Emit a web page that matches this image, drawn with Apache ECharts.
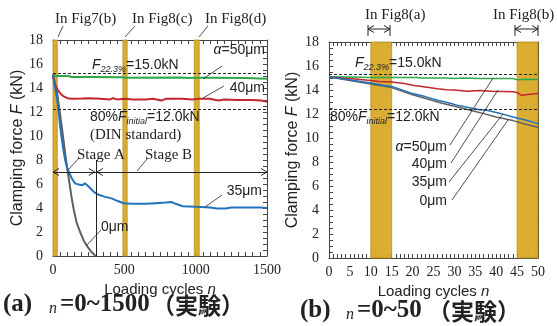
<!DOCTYPE html>
<html><head><meta charset="utf-8">
<script src="https://cdn.jsdelivr.net/npm/echarts@6/dist/echarts.min.js"></script>
<style>html,body{margin:0;padding:0;background:#fff}#c{width:557px;height:326px}</style>
</head><body><div id="c"></div>
<script>
// ---------- DATA ----------
// (a) n = 0~1500 : [cycle, clamping force kN]
const green50A = [[0,15.2],[8,15.05],[20,15.0],[110,15.0],[125,14.92],[250,14.92],[255,14.98],[265,14.92],[480,14.9],[490,14.85],[510,14.85],[520,14.9],[900,14.88],[950,14.83],[1000,14.85],[1100,14.85],[1350,14.83],[1500,14.78]];
const red40A = [[0,15.1],[8,14.5],[20,14.1],[35,13.8],[55,13.5],[75,13.3],[100,13.15],[130,13.1],[200,13.12],[260,13.15],[330,13.1],[400,13.05],[420,13.15],[450,13.05],[500,13.1],[560,13.05],[650,13.05],[700,13.1],[760,12.95],[790,13.1],[900,13.1],[980,13.05],[1020,13.1],[1100,13.1],[1140,13.0],[1160,12.95],[1200,13.05],[1300,13.0],[1400,13.0],[1460,12.95],[1500,12.85]];
const blue35A = [[0,15.1],[10,14.3],[20,13.7],[30,13.0],[40,12.0],[50,10.8],[60,9.9],[72,8.9],[85,8.0],[100,7.3],[115,6.9],[135,6.4],[155,6.05],[180,5.95],[205,5.9],[225,6.05],[240,5.9],[265,5.6],[290,5.3],[320,5.1],[360,4.95],[410,4.8],[450,4.6],[495,4.4],[550,4.35],[650,4.35],[720,4.4],[790,4.45],[830,4.5],[860,4.35],[910,4.15],[1000,4.1],[1100,4.05],[1150,3.95],[1210,3.95],[1250,4.05],[1350,4.05],[1450,4.05],[1500,4.0]];
const gray0A = [[0,15.1],[15,14.3],[30,13.5],[45,12.2],[60,10.9],[75,9.5],[90,8.1],[100,7.3],[115,6.1],[130,4.9],[145,3.9],[165,2.8],[190,2.0],[215,1.3],[240,0.8],[265,0.4],[290,0.1],[305,0]];
// (b) n = 0~50
const green50B = [[0,15.1],[5,15.08],[10,15.05],[15,15.05],[21,15.05],[22,15.0],[28,15.0],[30,14.95],[32,15.0],[36,14.95],[40,14.95],[44,14.95],[45,14.85],[47,14.9],[50,14.88]];
const red40B = [[0,15.08],[5,14.95],[10,14.8],[12,14.7],[15,14.67],[18,14.55],[20,14.4],[23,14.25],[26,14.1],[28,14.03],[30,14.0],[33,13.9],[36,13.95],[39,13.9],[42,13.88],[44,13.85],[45,13.8],[46,13.55],[47,13.6],[50,13.7]];
const blue35B = [[0,15.08],[3,14.95],[6,14.8],[10,14.58],[13,14.4],[15,14.3],[18,13.95],[20,13.7],[23,13.45],[26,13.15],[29,12.9],[31,12.7],[34,12.5],[36,12.36],[38,12.3],[41,12.05],[44,11.75],[47,11.5],[50,11.2]];
const gray0B = [[0,15.08],[5,14.8],[10,14.5],[15,14.2],[20,13.6],[25,13.1],[27,12.9],[30,12.65],[35,12.2],[37,12.03],[40,11.75],[44,11.45],[47,11.15],[50,10.9]];
// bands, reference lines, stage markers
const bandsA = [[0,30],[490,520],[990,1025]];
const bandsB = [[10,15],[45,50]];
const refA = [15.2, 12.2];
const refB = [15.35, 12.4];
const stageY = 7, stageSplit = 300, stageTop = 8, stageEnd = 1500;
const xTicksA = [0, 1500, 500];
const xTicksB = [0, 50, 5];
const yTicks = [0, 18, 2];

// ---------- STYLE ----------
const SERIF = '"Liberation Serif","DejaVu Serif",serif';
const SANS = '"Liberation Sans",Arial,sans-serif';
const CJK = '"Noto Sans CJK JP",sans-serif';
const AX = '#444', TXT = '#222';
const C = {green:'#2fa84a', red:'#c3262e', blue:'#2372b9', gray:'#606060'};
const BAND = {color:'rgba(216,170,40,0.95)', borderColor:'#b99022', borderWidth:0.8};

const chart = echarts.init(document.getElementById('c'), null, {renderer:'canvas'});

function xAxis(gi, t, minor, pos, labels) {
  return {type:'value', gridIndex:gi, position:pos, min:t[0], max:t[1], interval:t[2],
    axisLine:{show:true, onZero:false, lineStyle:{color:AX, width:1}},
    axisTick:{show:true, inside:true, length:4, lineStyle:{color:AX}},
    minorTick:{show:true, splitNumber:minor, length:4, lineStyle:{color:AX}},
    splitLine:{show:false}, minorSplitLine:{show:false},
    axisLabel:{show:labels, fontFamily:SERIF, fontSize:14, color:TXT, margin:7, formatter:v => String(v)},
    name: labels ? '{a|Loading cycles }{b|n}' : '', nameLocation:'middle', nameGap:20,
    nameTextStyle:{rich:{a:{fontFamily:SANS, fontSize:15, color:TXT}, b:{fontFamily:SANS, fontSize:15, fontStyle:'italic', color:TXT}}}
  };
}
function yAxis(gi, pos, labels, gap) {
  return {type:'value', gridIndex:gi, position:pos, min:yTicks[0], max:yTicks[1], interval:yTicks[2],
    axisLine:{show:true, onZero:false, lineStyle:{color:AX, width:1}},
    axisTick:{show:true, inside:true, length:4, lineStyle:{color:AX}},
    minorTick:{show:true, splitNumber:4, length:4, lineStyle:{color:AX}},
    splitLine:{show:false}, minorSplitLine:{show:false},
    axisLabel:{show:labels, fontFamily:SERIF, fontSize:14, color:TXT, margin:10, formatter:v => String(v)},
    name: labels ? '{a|Clamping force }{b|F}{a| (kN)}' : '', nameLocation:'middle', nameGap:gap,
    nameTextStyle:{rich:{a:{fontFamily:SANS, fontSize:16, color:TXT}, b:{fontFamily:SANS, fontSize:16, fontStyle:'italic', color:TXT}}}
  };
}
function lineSeries(name, data, color, xi, yi, w) {
  return {type:'line', name, data, xAxisIndex:xi, yAxisIndex:yi, showSymbol:false, symbol:'none',
    lineStyle:{color, width:w}, itemStyle:{color}, z:3, silent:true, animation:false};
}
function helper(xi, yi, bands, refs, extra) {
  const ml = refs.map(v => ({yAxis:v, lineStyle:{type:[3,2], color:'#222', width:1}}));
  return {type:'line', data:[], xAxisIndex:xi, yAxisIndex:yi, silent:true, animation:false, z:2,
    markArea:{silent:true, itemStyle:BAND, data:bands.map(b => [{xAxis:b[0]},{xAxis:b[1]}])},
    markLine:{silent:true, symbol:'none', label:{show:false}, animation:false, data:ml.concat(extra||[])}
  };
}
const stageLines = [
  [{coord:[0,stageY], lineStyle:{type:'solid', color:'#222', width:1}}, {coord:[stageEnd,stageY]}],
  [{coord:[stageSplit,0], lineStyle:{type:'solid', color:'#222', width:1}}, {coord:[stageSplit,stageTop]}]
];

chart.setOption({
  animation:false,
  grid:[{left:53, top:40, width:214, height:216}, {left:329, top:42, width:209, height:216}],
  xAxis:[xAxis(0,xTicksA,10,'bottom',true), xAxis(0,xTicksA,10,'top',false), xAxis(1,xTicksB,5,'bottom',true), xAxis(1,xTicksB,5,'top',false)],
  yAxis:[yAxis(0,'left',true,27), yAxis(0,'right',false,0), yAxis(1,'left',true,28), yAxis(1,'right',false,0)],
  series:[
    helper(0,0,bandsA,refA,stageLines),
    helper(2,2,bandsB,refB),
    lineSeries('0μm', gray0A, C.gray, 0,0, 2),
    lineSeries('α=50μm', green50A, C.green, 0,0, 2),
    lineSeries('40μm', red40A, C.red, 0,0, 2),
    lineSeries('35μm', blue35A, C.blue, 0,0, 2),
    lineSeries('0μm', gray0B, C.gray, 2,2, 1.5),
    lineSeries('α=50μm', green50B, C.green, 2,2, 1.5),
    lineSeries('40μm', red40B, C.red, 2,2, 1.5),
    lineSeries('35μm', blue35B, C.blue, 2,2, 1.5)
  ]
});

// ---------- ANNOTATIONS ----------
const g = [];
function txt(x, y, text, opt) {
  g.push({type:'text', x, y, silent:true, z:10, style:Object.assign({text, fill:TXT, font:'14px '+SANS, textAlign:'left', textVerticalAlign:'middle'}, opt||{})});
}
function ln(x1, y1, x2, y2, w) {
  g.push({type:'line', silent:true, z:10, shape:{x1,y1,x2,y2}, style:{stroke:'#222', lineWidth:w||0.8}});
}
function chev(x, y, dir) { // open arrow head pointing dir (+1 right, -1 left)
  g.push({type:'polyline', silent:true, z:10, shape:{points:[[x-dir*6,y-3.5],[x,y],[x-dir*6,y+3.5]]}, style:{stroke:'#222', lineWidth:1, fill:null}});
}
function richF(prefix, sub, rest) {
  return {
    text:(prefix ? '{t|'+prefix+'}' : '') + '{f|F}{s|'+sub+'}{t|'+rest+'}',
    rich:{f:{fontFamily:SANS, fontSize:14, fontStyle:'italic', fill:TXT, lineHeight:18},
          s:{fontFamily:SANS, fontSize:9, fontStyle:'italic', fill:TXT, lineHeight:18, verticalAlign:'bottom', padding:[6,0,0,0]},
          t:{fontFamily:SANS, fontSize:14, fill:TXT, lineHeight:18}}
  };
}
const alphaRich = {text:'{a|α}{t|=50μm}', rich:{a:{fontFamily:SANS, fontSize:14, fontStyle:'italic', fill:TXT}, t:{fontFamily:SANS, fontSize:14, fill:TXT}}};

// stage arrows (data coords -> pixels)
const pA0 = chart.convertToPixel({xAxisIndex:0, yAxisIndex:0}, [0, stageY]);
const pAS = chart.convertToPixel({xAxisIndex:0, yAxisIndex:0}, [stageSplit, stageY]);
const pAE = chart.convertToPixel({xAxisIndex:0, yAxisIndex:0}, [stageEnd, stageY]);
chev(pA0[0], pA0[1], -1); chev(pAS[0]-1, pAS[1], 1); chev(pAS[0]+1, pAS[1], -1); chev(pAE[0], pAE[1], 1);

// (a) panel texts
txt(55, 19, 'In Fig7(b)', {font:'15px '+SERIF}); ln(63,26,58,37);
txt(132, 19, 'In Fig8(c)', {font:'15px '+SERIF}); ln(135,26,125,37);
txt(205, 19, 'In Fig8(d)', {font:'15px '+SERIF}); ln(208,26,199,37);
txt(265, 50, '', Object.assign({textAlign:'right'}, alphaRich)); ln(222,66,203,79);
txt(92, 65, '', richF('', '22.3%', '=15.0kN'));
txt(265, 88, '40μm', {textAlign:'right'}); ln(224,86,203,98);
txt(90, 117, '', richF('80%', 'initial', '=12.0kN'));
txt(90, 135, '(DIN standard)', {font:'15px '+SERIF});
txt(77, 155, 'Stage A', {font:'15px '+SERIF}); ln(79,158,68,170);
txt(145, 155, 'Stage B', {font:'15px '+SERIF}); ln(147,159,137,171);
txt(262, 191, '35μm', {textAlign:'right'}); ln(222,195,205,207);
txt(101, 227, '0μm'); ln(101,230,87,245);

// (b) panel texts
txt(365, 15, 'In Fig8(a)', {font:'15px '+SERIF});
ln(368,29,390,29,1); ln(368,25,368,36,1); ln(390,25,390,36,1); chev(368,29,-1); chev(390,29,1);
txt(493, 15, 'In Fig8(b)', {font:'15px '+SERIF});
ln(515,29,538,29,1); ln(515,25,515,36,1); ln(538,25,538,36,1); chev(515,29,-1); chev(538,29,1);
txt(355, 63, '', richF('', '22.3%', '=15.0kN'));
txt(330, 117, '', richF('80%', 'initial', '=12.0kN'));
txt(447, 147, '', Object.assign({textAlign:'right'}, alphaRich)); ln(450,145,493,78);
txt(447, 164, '40μm', {textAlign:'right'}); ln(451,163,498,90);
txt(447, 182, '35μm', {textAlign:'right'}); ln(449,182,503,114);
txt(447, 201, '0μm', {textAlign:'right'}); ln(452,200,508,120);

// captions
txt(3, 305, '(a)', {font:'bold 25px '+SERIF});
txt(49, 309, 'n', {font:'italic 16px '+SERIF});
txt(60, 305, '=0~1500', {font:'bold 25px '+SERIF});
txt(152, 305, '（実験）', {font:'bold 23px '+CJK});
txt(300, 311, '(b)', {font:'bold 25px '+SERIF});
txt(346, 315, 'n', {font:'italic 16px '+SERIF});
txt(357, 311, '=0~50', {font:'bold 25px '+SERIF});
txt(428, 311, '（実験）', {font:'bold 23px '+CJK});

chart.setOption({graphic:{elements:g}});
</script></body></html>
